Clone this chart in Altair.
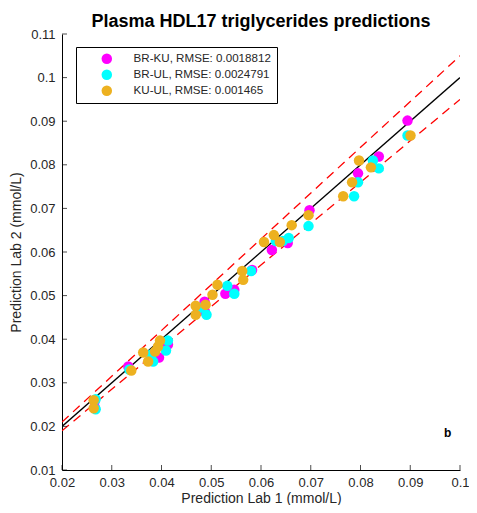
import altair as alt
import pandas as pd

FONT = "Liberation Sans"

series_names = ["BR-KU, RMSE: 0.0018812", "BR-UL, RMSE: 0.0024791", "KU-UL, RMSE: 0.001465"]
series_colors = ["#FF00FF", "#00FFFF", "#EDB120"]

brku_x = [0.02657, 0.02657, 0.03333, 0.03950, 0.04129, 0.04866, 0.04866, 0.05284, 0.05463,
          0.05821, 0.06219, 0.06537, 0.06975, 0.07950, 0.08368, 0.08945]
brku_y = [0.02575, 0.02438, 0.03374, 0.03580, 0.03877, 0.04858, 0.04653, 0.05041, 0.05132,
          0.05589, 0.06046, 0.06205, 0.06959, 0.07804, 0.08192, 0.09014]

brul_x = [0.02677, 0.02677, 0.03353, 0.03791, 0.03831, 0.04090, 0.04129, 0.04766, 0.04905,
          0.05323, 0.05463, 0.05801, 0.06299, 0.06438, 0.06557, 0.06955, 0.07871, 0.07950,
          0.08249, 0.08368, 0.08945]
brul_y = [0.02621, 0.02393, 0.03306, 0.03648, 0.03489, 0.03740, 0.03968, 0.04721, 0.04562,
          0.05224, 0.05041, 0.05566, 0.06251, 0.06251, 0.06320, 0.06594, 0.07279, 0.07598,
          0.08100, 0.07918, 0.08671]

kuul_x = [0.02637, 0.02637, 0.03393, 0.03632, 0.03731, 0.03871, 0.03930, 0.03970, 0.04687,
          0.04687, 0.04886, 0.05025, 0.05124, 0.05622, 0.05642, 0.06060, 0.06259, 0.06378,
          0.06617, 0.06955, 0.07652, 0.07831, 0.07970, 0.08209, 0.09005]
kuul_y = [0.02598, 0.02416, 0.03283, 0.03694, 0.03489, 0.03717, 0.03831, 0.03968, 0.04767,
          0.04562, 0.04790, 0.05018, 0.05247, 0.05566, 0.05361, 0.06228, 0.06388, 0.06228,
          0.06616, 0.06845, 0.07279, 0.07598, 0.08100, 0.07941, 0.08671]

x_ticks = [0.02, 0.03, 0.04, 0.05, 0.06, 0.07, 0.08, 0.09, 0.1]
y_ticks = [0.01, 0.02, 0.03, 0.04, 0.05, 0.06, 0.07, 0.08, 0.09, 0.1, 0.11]

line_x = [0.02, 0.1]
band_factor = [1.0, 1.05, 0.95]
band_name = ["identity", "upper", "lower"]

title_text = "Plasma HDL17 triglycerides predictions"
x_title = "Prediction Lab 1 (mmol/L)"
y_title = "Prediction Lab 2 (mmol/L)"
panel_label = "b"

W, H = 398, 436

pts = pd.concat([
    pd.DataFrame({"x": brku_x, "y": brku_y, "s": series_names[0]}),
    pd.DataFrame({"x": brul_x, "y": brul_y, "s": series_names[1]}),
    pd.DataFrame({"x": kuul_x, "y": kuul_y, "s": series_names[2]}),
], ignore_index=True)
pts["o"] = range(len(pts))

lines = pd.DataFrame([
    {"x": xv, "y": xv * f, "k": n} for f, n in zip(band_factor, band_name) for xv in line_x
])

xscale = alt.Scale(domain=[0.02, 0.1], nice=False, zero=False)
yscale = alt.Scale(domain=[0.01, 0.11], nice=False, zero=False)
xaxis = alt.Axis(values=x_ticks, format="~g", tickSize=0, labelPadding=6, grid=False,
                 domainColor="black", domainWidth=1, labelFontSize=13, labelFont=FONT,
                 labelColor="#262626", title=x_title, titleFont=FONT, titleFontSize=14,
                 titleFontWeight="normal", titleColor="#262626", titlePadding=2,
                 labelFlush=False)
yaxis = alt.Axis(values=y_ticks, format="~g", tickSize=0, labelPadding=7, grid=False,
                 domainColor="black", domainWidth=1, labelFontSize=13, labelFont=FONT,
                 labelColor="#262626", title=y_title, titleFont=FONT, titleFontSize=14,
                 titleFontWeight="normal", titleColor="#262626", titlePadding=6,
                 labelFlush=False)

X = alt.X("x:Q", scale=xscale, axis=xaxis)
Y = alt.Y("y:Q", scale=yscale, axis=yaxis)

ref_lines = alt.Chart(lines).transform_filter(alt.datum.k == "identity").mark_line(
    color="black", strokeWidth=1.3, clip=True).encode(x=X, y=Y, detail="k:N")
dash_lines = alt.Chart(lines).transform_filter(alt.datum.k != "identity").mark_line(
    color="#FF0000", strokeWidth=1.3, strokeDash=[9, 6], clip=True).encode(x=X, y=Y, detail="k:N")

points = alt.Chart(pts).mark_circle(size=110, opacity=1).encode(
    x=X, y=Y,
    color=alt.Color("s:N", scale=alt.Scale(domain=series_names, range=series_colors),
                    legend=alt.Legend(title=None, orient="none", legendX=14, legendY=13,
                                      fillColor="white", strokeColor="black", padding=6,
                                      symbolType="circle", symbolSize=110, symbolStrokeWidth=0,
                                      symbolOffset=19, labelOffset=21, rowPadding=3,
                                      labelFont=FONT, labelFontSize=11.6, labelColor="#262626")),
    order=alt.Order("o:Q"),
)

xt = alt.Chart(pd.DataFrame({"x": x_ticks})).mark_tick(
    orient="vertical", size=5, thickness=1, color="black").encode(x=X, y=alt.value(H - 2.5))
yt = alt.Chart(pd.DataFrame({"y": y_ticks})).mark_tick(
    orient="horizontal", size=5, thickness=1, color="black").encode(y=Y, x=alt.value(2.5))

lab = alt.Chart(pd.DataFrame({"x": [0.0975], "y": [0.0185], "t": [panel_label]})).mark_text(
    font=FONT, fontSize=12, fontWeight="bold", color="black").encode(x=X, y=Y, text="t:N")

chart = alt.layer(ref_lines, dash_lines, points, xt, yt, lab).properties(
    width=W, height=H,
    title=alt.TitleParams(title_text, font=FONT, fontSize=18, fontWeight="bold", color="black",
                          anchor="middle", frame="group", offset=5, baseline="bottom", dy=26),
    autosize=alt.AutoSizeParams(type="none"),
    padding={"left": 54, "top": 26, "right": 9, "bottom": 35},
).configure_view(strokeWidth=0).configure_legend(labelFontSize=11.6, labelFont=FONT)

chart.save("out.html", embed_options={"renderer": "svg", "actions": False})
